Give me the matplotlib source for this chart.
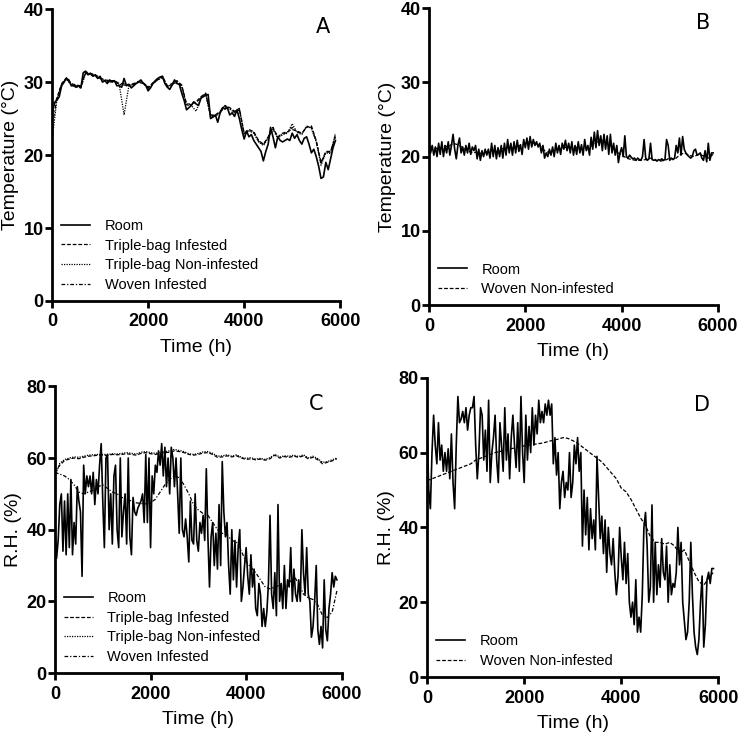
import numpy as np
import matplotlib
matplotlib.use("Agg")
import matplotlib.pyplot as plt

plt.rcParams["font.family"] = ["Liberation Sans", "DejaVu Sans"]

# ---- Panel A: temperature, triple-bag / woven infested (deg C) ----
a_room = [25.5, 27.2, 27.5, 28, 29.5, 30, 30.5, 30.3, 29.5, 29.5, 29.3, 29.5, 29.2, 31.3, 31.5, 31,
          31.2, 30.8, 31, 30.5, 30.8, 30, 30.2, 29.8, 30.3, 30, 30.2, 29.5, 29.5, 29.3, 30.5, 29.5,
          29.7, 29.2, 29.5, 29.8, 30, 30.3, 29.8, 29.6, 28.8, 29.2, 29.8, 30.2, 30.5, 30.7, 30.8, 29.8,
          29.3, 29, 29.6, 30.3, 29.8, 29.7, 28.5, 27.5, 26.2, 26.5, 26.8, 27.3, 27, 26.8, 27.8, 28,
          28.2, 28.3, 25, 25.2, 25.5, 24.5, 25.8, 26.5, 26.3, 26.5, 25.5, 25.8, 25.3, 26.2, 25, 23.5,
          22.2, 23.3, 22.5, 22.8, 22, 21.5, 21, 20.5, 19.2, 20.5, 21.5, 23.8, 22.5, 21, 22.5, 22,
          21.8, 22, 22.2, 22, 23, 22.3, 22.8, 22, 21.5, 22.3, 22.5, 21.5, 20.3, 20.8, 19.8, 18.5,
          16.8, 17, 19, 18, 19.5, 21, 22]
a_tb_inf = [26, 27.8, 29.8, 30.6, 29.8, 29.6, 29.5, 31.4, 31.2, 31, 30.6, 30.3, 30.2, 30.2, 29.8,
            29.8, 29.6, 29.8, 30.1, 29.9, 29.3, 29.9, 30.4, 30.8, 29.5, 29.8, 30.2, 29.6, 27, 27,
            27.3, 28, 28.5, 25.5, 25.5, 26, 26.8, 26.5, 26, 26.4, 23, 23.5, 23.2, 22, 21.5, 22.5,
            23.8, 22.5, 23, 23.2, 23.5, 23.3, 23, 23.8, 24, 22, 19, 20.5, 20.5, 22.5]
a_tb_non = [22, 27.5, 29.6, 30.4, 29.6, 29.4, 29.2, 31.2, 31, 30.8, 30.5, 30.2, 30, 30.1, 29.6,
            25.5, 29.5, 29.7, 30, 29.8, 29.1, 29.8, 30.3, 30.6, 29.3, 29.6, 30, 29.4, 26.8, 26.8,
            26, 27.8, 28.3, 25.3, 25.3, 25.8, 26.6, 26.3, 25.8, 26.2, 22.8, 23.3, 23, 21.8, 21.3,
            22.3, 23.5, 22.3, 22.8, 23, 24.3, 23.1, 22.8, 24, 23.6, 21.8, 18.6, 20.3, 20.2, 23]
a_woven_inf = [24, 27.6, 29.7, 30.5, 29.7, 29.5, 29.4, 31.3, 31.1, 30.9, 30.5, 30.2, 30.1, 30.1,
               29.7, 29.6, 29.5, 29.7, 30, 29.8, 29.2, 29.8, 30.3, 30.7, 29.4, 29.7, 30.1, 29.5,
               26.9, 26.9, 27.2, 27.9, 28.4, 25.4, 25.4, 25.9, 26.7, 26.4, 25.9, 26.3, 22.9, 23.4,
               23.1, 21.9, 21.4, 22.4, 23.6, 22.4, 22.9, 23.1, 23.8, 23.2, 22.9, 23.9, 23.8, 21.9,
               18.8, 20.4, 20.4, 22.8]

# ---- Panel B: temperature, woven non-infested (deg C) ----
b_room = [21.8, 20.5, 21.5, 20.2, 21.3, 20, 21.8, 20.3, 22, 20, 21.5, 20.5, 22, 20.2, 21.5,
          23, 21, 19.7, 21.5, 22.5, 20.5, 21.3, 20.2, 21.5, 20.5, 21.8, 20.3, 21.3, 20.8, 21.5,
          19.7, 21, 19.5, 20.8, 20, 21, 20.2, 21, 19.8, 21.8, 20, 21.5, 19.7, 21.2, 20,
          21.5, 19.8, 21.8, 20.2, 22.3, 20.5, 21.8, 20.2, 22, 20.5, 22.2, 20.7, 21.6, 20.3, 22.3,
          21.2, 22.5, 21, 22.7, 21.3, 22.3, 21.5, 22, 21.3, 21.8, 20.5, 21.5, 19.8, 20.5, 20,
          21, 20.2, 21.3, 20, 21.8, 20.5, 21.5, 20.3, 21.8, 21, 22.2, 20.8, 21.8, 20.5, 22,
          20.2, 21.5, 20.3, 22, 20.5, 21.6, 20.2, 22.3, 20.8, 21.5, 20.2, 22.6, 21, 23.3, 21.2,
          23.5, 21.5, 22.8, 20.8, 23, 21, 22.8, 20.3, 23, 20.5, 21.8, 20.2, 21.5, 19.2, 20.5,
          21.2, 20, 22.8, 20, 19.8, 20.2, 19.9, 19.7, 19.8, 19.5, 19.8, 19.6, 19.5, 20, 22.3,
          19.8, 19.5, 19.7, 21.8, 19.6, 19.5, 19.6, 19.4, 19.6, 19.5, 19.7, 19.5, 19.6, 22.3, 21.5,
          19.5, 19.8, 19.6, 19.8, 21.5, 20.5, 22.5, 20.2, 22.7, 21, 20.5, 20.2, 20, 19.8, 20,
          20.8, 21, 20.2, 20.3, 20.5, 19.8, 19.5, 20.8, 19.3, 21.8, 19.5, 20.5, 20.5]
b_woven_non = [21.3, 21.2, 21, 21.5, 21.3, 21.8, 21.6, 21.2, 20.8, 20.5, 20.6, 20.4, 20.6, 20.8,
               20.7, 21, 21.2, 21.1, 21.3, 21.5, 21.8, 22, 21.8, 21.5, 20.8, 20.5, 20.8, 21, 21.2,
               21.3, 21.3, 21.2, 21, 21.3, 21.5, 22, 22.2, 21.8, 21.3, 20.6, 20.2, 19.8, 19.6, 19.5,
               19.5, 19.6, 19.8, 19.5, 19.4, 19.5, 19.8, 19.6, 20.2, 20.5, 20.2, 20, 20.3, 20.1,
               19.8, 20.3]

# ---- Panel C: relative humidity, triple-bag / woven infested (%) ----
c_room = [40, 32, 37, 47, 50, 34, 48, 33, 50, 35, 54, 33, 42, 36, 52, 48, 45, 27,
          58, 50, 55, 52, 55, 50, 56, 47, 54, 50, 58, 64, 48, 35, 60, 61, 40, 50,
          36, 55, 58, 40, 35, 60, 38, 45, 50, 36, 60, 38, 33, 49, 45, 44, 46, 47,
          48, 50, 42, 61, 42, 60, 35, 55, 50, 58, 56, 62, 58, 64, 55, 63, 52, 60,
          50, 63, 60, 52, 60, 50, 39, 60, 40, 38, 43, 38, 31, 48, 37, 36, 50, 37,
          34, 42, 39, 44, 37, 57, 38, 24, 38, 42, 30, 39, 29, 47, 30, 59, 45, 38,
          42, 30, 22, 40, 26, 37, 24, 35, 40, 20, 24, 30, 35, 27, 22, 33, 24, 29,
          18, 16, 25, 22, 13, 18, 13, 17, 25, 44, 22, 18, 28, 16, 47, 20, 25, 18,
          30, 18, 26, 24, 35, 20, 29, 22, 20, 26, 20, 40, 28, 22, 35, 22, 20, 10,
          13, 20, 30, 12, 8, 13, 7, 26, 12, 9, 18, 22, 28, 24, 27, 26]
c_tb_inf = [56, 58, 59.3, 59.7, 60, 59.8, 60.2, 60.5, 60.6, 60.8, 60.8, 60.7, 61, 60.9, 61, 61.2,
            61, 60.8, 61.3, 61.5, 61.2, 61, 61.3, 61.5, 61.6, 62, 61.8, 61.5, 61, 60.8, 61, 61.4,
            61.5, 61, 60.2, 60.3, 60.6, 60.3, 60.6, 60, 59.6, 59.8, 59.5, 59.7, 59.4, 59.8, 60.8,
            60, 60.4, 60.2, 60.5, 60.2, 60.6, 59.8, 60.2, 59.5, 58.4, 58.8, 59.2, 59.8]
c_tb_non = [55, 58.5, 59.6, 60, 60.3, 60.2, 60.5, 60.8, 60.9, 61, 61, 61, 61.2, 61.1, 61.3, 61.5,
            61.3, 61.1, 61.6, 61.8, 61.5, 61.3, 61.6, 61.8, 62, 62.4, 62.1, 61.8, 61.2, 61, 61.3,
            61.7, 61.8, 61.3, 60.5, 60.6, 60.9, 60.5, 60.9, 60.2, 59.9, 60.1, 59.7, 59.9, 59.6,
            60.1, 61, 60.3, 60.6, 60.5, 60.8, 60.4, 60.9, 60, 60.5, 59.8, 58.8, 59, 59.5, 60]
c_woven_inf = [56, 55.5, 55, 54, 52.5, 50.5, 50, 50.5, 51, 52, 52.5, 51.5, 50.5, 50, 49, 48.5, 48,
               47.5, 47.3, 47.2, 47.5, 48.5, 50.5, 52.5, 54, 55, 54.5, 52.5, 50, 47, 45.5, 44.5,
               44, 42, 40, 39, 38.5, 37, 36.5, 34, 31, 29.5, 28, 26, 24, 23.5, 24, 24.5, 24, 25,
               27, 25, 22, 21, 20.5, 19, 16, 15.5, 17, 23]

# ---- Panel D: relative humidity, woven non-infested (%) ----
d_room = [65, 50, 45, 60, 70, 62, 57, 68, 58, 62, 55, 60, 55, 61, 53, 65, 52, 45,
          62, 75, 68, 69, 71, 68, 72, 66, 70, 72, 72, 75, 62, 53, 60, 72, 70, 58,
          66, 55, 74, 52, 60, 64, 70, 58, 52, 68, 62, 55, 72, 58, 65, 53, 64, 70,
          62, 56, 68, 55, 75, 60, 52, 70, 58, 67, 60, 72, 62, 70, 65, 74, 68, 71,
          68, 73, 70, 74, 70, 73, 57, 64, 54, 60, 45, 52, 55, 48, 52, 50, 60, 48,
          52, 62, 57, 64, 55, 60, 35, 50, 38, 48, 34, 45, 37, 42, 34, 59, 48, 37,
          43, 33, 42, 28, 40, 33, 30, 37, 28, 22, 27, 40, 32, 26, 36, 25, 33, 20,
          16, 20, 14, 26, 12, 16, 12, 22, 40, 44, 35, 20, 24, 46, 20, 36, 22, 30,
          24, 37, 28, 26, 35, 20, 30, 22, 25, 24, 28, 40, 30, 36, 20, 15, 10, 12,
          20, 36, 22, 12, 8, 6, 10, 20, 27, 8, 14, 26, 28, 25, 29, 29]
d_woven_non = [52.5, 53, 53.5, 54, 54.5, 55, 55.5, 56, 56.5, 57, 58, 58.5, 59, 59.5, 60, 60.3,
               60.6, 61, 61.2, 61.5, 61.8, 62, 62.2, 62.4, 62.6, 63, 63.3, 63.6, 64, 63.8, 63.2,
               62.5, 61.5, 60.5, 59.5, 58.5, 57.5, 56, 54.5, 53, 50.5, 49.5, 47.5, 45, 42.5, 40.5,
               37.5, 36, 36, 35.5, 36, 35, 33, 34, 31, 28, 25.5, 24.5, 26.5, 28]

T_END = 5900


def hours(values):
    return np.linspace(0, T_END, len(values))


def style_axes(ax, ymax, ystep, ylabel):
    ax.set_xlim(0, 6000)
    ax.set_ylim(0, ymax)
    ax.set_xticks([0, 2000, 4000, 6000])
    ax.set_yticks(np.arange(0, ymax + 1, ystep))
    for s in ["top", "right"]:
        ax.spines[s].set_visible(False)
    for s in ["left", "bottom"]:
        ax.spines[s].set_linewidth(2.0)
    ax.tick_params(width=2.0, length=5, labelsize=13)
    ax.tick_params(axis="x", pad=4)
    ax.tick_params(axis="y", pad=1)
    for lab in ax.get_xticklabels() + ax.get_yticklabels():
        lab.set_fontweight("bold")
    ax.set_xlabel("Time (h)", fontsize=14, labelpad=6)
    ax.set_ylabel(ylabel, fontsize=14, labelpad=3)


fig = plt.figure(figsize=(7.39, 7.37), dpi=100)
axA = fig.add_axes([0.0704, 0.5916, 0.390, 0.396])
axB = fig.add_axes([0.5805, 0.586, 0.391, 0.403])
axC = fig.add_axes([0.0744, 0.0868, 0.388, 0.389])
axD = fig.add_axes([0.578, 0.0814, 0.394, 0.406])

solid = dict(color="black", lw=1.2, ls="-")
dashed = dict(color="black", lw=0.9, ls=(0, (3, 1.5)))
dotted = dict(color="black", lw=0.9, ls=(0, (1, 1)))
dashdot = dict(color="black", lw=0.9, ls=(0, (3, 1.5, 1, 1.5)))

leg_kw = dict(frameon=False, fontsize=10.5, handlelength=2.0, handletextpad=1.0,
              labelspacing=0.4, loc="lower left", borderaxespad=0.2)

# A
axA.plot(hours(a_tb_inf), a_tb_inf, label="Triple-bag Infested", **dashed)
axA.plot(hours(a_tb_non), a_tb_non, label="Triple-bag Non-infested", **dotted)
axA.plot(hours(a_woven_inf), a_woven_inf, label="Woven Infested", **dashdot)
axA.plot(hours(a_room), a_room, label="Room", **solid)
style_axes(axA, 40, 10, "Temperature (°C)")
h, l = axA.get_legend_handles_labels()
axA.legend([h[3], h[0], h[1], h[2]], [l[3], l[0], l[1], l[2]], **leg_kw)

# B
axB.plot(hours(b_woven_non), b_woven_non, label="Woven Non-infested", **dashed)
axB.plot(hours(b_room), b_room, label="Room", **solid)
style_axes(axB, 40, 10, "Temperature (°C)")
h, l = axB.get_legend_handles_labels()
axB.legend([h[1], h[0]], [l[1], l[0]], **leg_kw)

# C
axC.plot(hours(c_tb_inf), c_tb_inf, label="Triple-bag Infested", **dashed)
axC.plot(hours(c_tb_non), c_tb_non, label="Triple-bag Non-infested", **dotted)
axC.plot(hours(c_woven_inf), c_woven_inf, label="Woven Infested", **dashdot)
axC.plot(hours(c_room), c_room, label="Room", **solid)
style_axes(axC, 80, 20, "R.H. (%)")
h, l = axC.get_legend_handles_labels()
axC.legend([h[3], h[0], h[1], h[2]], [l[3], l[0], l[1], l[2]], **leg_kw)

# D
axD.plot(hours(d_woven_non), d_woven_non, label="Woven Non-infested", **dashed)
axD.plot(hours(d_room), d_room, label="Room", **solid)
style_axes(axD, 80, 20, "R.H. (%)")
h, l = axD.get_legend_handles_labels()
axD.legend([h[1], h[0]], [l[1], l[0]], **leg_kw)

for ax, letter, x, y in [(axA, "A", 0.94, 0.94), (axB, "B", 0.95, 0.95),
                         (axC, "C", 0.91, 0.94), (axD, "D", 0.945, 0.91)]:
    ax.text(x, y, letter, transform=ax.transAxes, ha="center", va="center",
            fontsize=15, family="DejaVu Sans")

fig.savefig("out.png", dpi=100)
